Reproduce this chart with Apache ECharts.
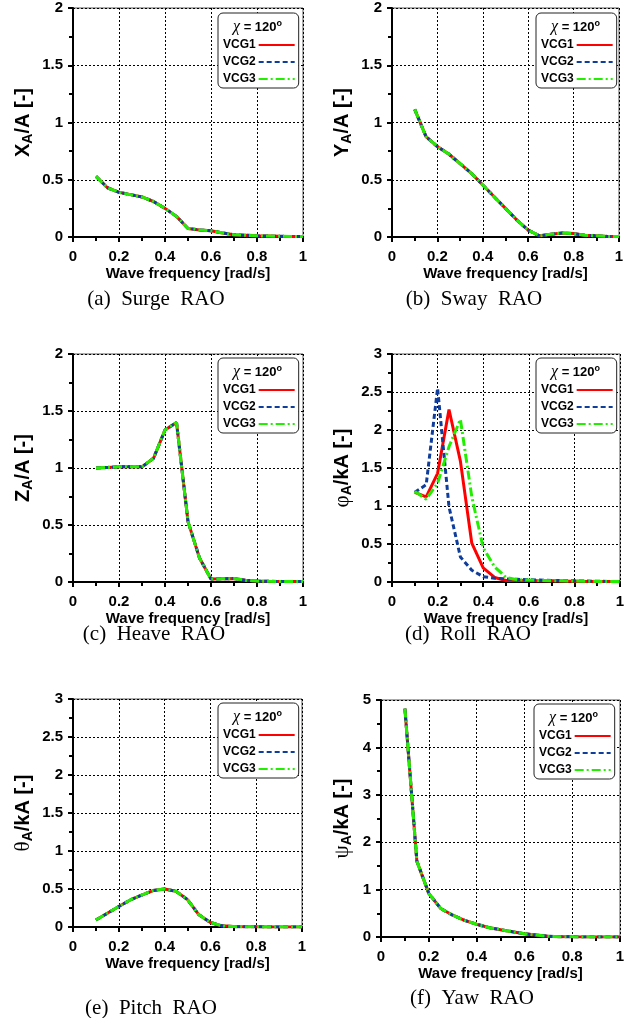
<!DOCTYPE html>
<html>
<head>
<meta charset="utf-8">
<script src="https://cdn.jsdelivr.net/npm/echarts@6/dist/echarts.min.js"></script>
<style>
  html, body { margin: 0; padding: 0; background: #fff; }
  #main { width: 632px; height: 1018px; }
</style>
</head>
<body>
<div id="main"></div>
<script>
// Six RAO panels for wave heading 120 deg, three VCG cases each.
const freq = [0.1, 0.15, 0.2, 0.25, 0.3, 0.35, 0.4, 0.45, 0.5, 0.55, 0.6, 0.65, 0.7, 0.75, 0.8, 0.85, 0.9, 0.95, 1.0];

const surge = [0.53, 0.43, 0.39, 0.37, 0.35, 0.31, 0.25, 0.18, 0.075, 0.062, 0.055, 0.035, 0.02, 0.015, 0.01, 0.008, 0.006, 0.005, 0.004];
const sway = [1.115, 0.876, 0.79, 0.725, 0.64, 0.556, 0.454, 0.352, 0.25, 0.148, 0.06, 0.01, 0.025, 0.035, 0.03, 0.015, 0.01, 0.005, 0.005];
const heave = [1.0, 1.005, 1.01, 1.01, 1.01, 1.085, 1.333, 1.4, 0.53, 0.21, 0.026, 0.028, 0.03, 0.015, 0.008, 0.006, 0.005, 0.004, 0.004];
const rollVcg1 = [1.18, 1.12, 1.43, 2.27, 1.59, 0.51, 0.185, 0.06, 0.02, 0.02, 0.02, 0.018, 0.015, 0.012, 0.01, 0.008, 0.006, 0.005, 0.004];
const rollVcg2 = [1.18, 1.28, 2.55, 0.99, 0.33, 0.155, 0.07, 0.05, 0.04, 0.035, 0.03, 0.025, 0.02, 0.018, 0.015, 0.012, 0.01, 0.008, 0.006];
const rollVcg3 = [1.19, 1.09, 1.3, 1.78, 2.14, 1.12, 0.45, 0.2, 0.06, 0.03, 0.025, 0.02, 0.018, 0.015, 0.012, 0.01, 0.008, 0.006, 0.005];
const pitch = [0.092, 0.18, 0.27, 0.356, 0.42, 0.48, 0.5, 0.47, 0.36, 0.16, 0.06, 0.015, 0.005, 0.003, 0.002, 0.001, 0.001, 0.001, 0.001];
const yaw = [4.82, 1.6, 0.92, 0.6, 0.46, 0.35, 0.27, 0.2, 0.155, 0.11, 0.07, 0.04, 0.015, 0.005, 0.003, 0.002, 0.001, 0.001, 0.001];

const caseNames = ['VCG1', 'VCG2', 'VCG3'];
const captions = ['(a)  Surge  RAO', '(b)  Sway  RAO', '(c)  Heave  RAO', '(d)  Roll  RAO', '(e)  Pitch  RAO', '(f)  Yaw  RAO'];

// layout per panel: grid box, y range, y-name, legend box, caption pos
const panels = [
  { grid: [73, 8, 230, 229], yMax: 2, yInt: 0.5, sym: 'X', unit: '/A [-]', gap: 38, data: [surge, surge, surge], leg: [218, 13], cap: [156, 299] },
  { grid: [392, 8, 227, 229], yMax: 2, yInt: 0.5, sym: 'Y', unit: '/A [-]', gap: 38, data: [sway, sway, sway], leg: [536, 13], cap: [474, 299] },
  { grid: [73, 354, 230, 228], yMax: 2, yInt: 0.5, sym: 'Z', unit: '/A [-]', gap: 38, data: [heave, heave, heave], leg: [218, 358], cap: [154, 634] },
  { grid: [392, 354, 228, 228], yMax: 3, yInt: 0.5, sym: 'φ', greek: true, unit: '/kA [-]', gap: 38, data: [rollVcg1, rollVcg2, rollVcg3], leg: [536, 358], cap: [468, 634] },
  { grid: [73, 699, 229, 228], yMax: 3, yInt: 0.5, sym: 'θ', greek: true, unit: '/kA [-]', gap: 38, data: [pitch, pitch, pitch], leg: [218, 703], cap: [151, 1008] },
  { grid: [381, 700, 239, 237], yMax: 5, yInt: 1, sym: 'ψ', greek: true, unit: '/kA [-]', gap: 27, data: [yaw, yaw, yaw], leg: [534, 704], cap: [472, 998] },
];

const lineStyles = [
  { color: '#ff0000', width: 3, type: 'solid' },
  { color: '#0f3d9c', width: 3, type: [5, 3] },
  { color: '#22ee00', width: 3, type: [9, 3, 2, 3] },
];

const SANS = '"Liberation Sans", Arial, sans-serif';
const SERIF = '"Liberation Serif", "Times New Roman", serif';

const chart = echarts.init(document.getElementById('main'));

const grid = [], xAxis = [], yAxis = [], series = [], legend = [], graphic = [];

panels.forEach((p, i) => {
  const [l, t, w, h] = p.grid;
  grid.push({ left: l, top: t, width: w, height: h, show: true, borderColor: '#555', borderWidth: 1, backgroundColor: 'transparent' });

  xAxis.push({
    type: 'value', gridIndex: i, min: 0, max: 1, interval: 0.2,
    name: 'Wave frequency [rad/s]', nameLocation: 'middle', nameGap: 29,
    nameTextStyle: { fontFamily: SANS, fontWeight: 'bold', fontSize: 15, color: '#000' },
    axisLine: { lineStyle: { color: '#000', width: 2 } },
    axisTick: { show: true, inside: false, length: 5, lineStyle: { color: '#000', width: 2 } },
    minorTick: { show: true, splitNumber: 2, length: 4, lineStyle: { color: '#000', width: 2 } },
    axisLabel: { fontFamily: SANS, fontWeight: 'bold', fontSize: 15, color: '#000', margin: 12 },
    splitLine: { show: true, lineStyle: { color: '#000', type: [2, 2], width: 1 } },
  });

  const symStyle = p.greek
    ? { fontFamily: SERIF, fontSize: 21, fontWeight: 'normal', color: '#000' }
    : { fontFamily: SANS, fontSize: 20, fontWeight: 'bold', color: '#000' };
  yAxis.push({
    type: 'value', gridIndex: i, min: 0, max: p.yMax, interval: p.yInt,
    name: `{s|${p.sym}}{sub|A}{m|${p.unit}}`, nameLocation: 'middle', nameGap: p.gap, nameRotate: 90,
    nameTextStyle: {
      rich: {
        s: symStyle,
        sub: { fontFamily: SANS, fontSize: 14, fontWeight: 'bold', color: '#000', padding: [9, 0, 0, 0] },
        m: { fontFamily: SANS, fontSize: 20, fontWeight: 'bold', color: '#000' },
      },
    },
    axisLine: { show: true, lineStyle: { color: '#000', width: 2 } },
    axisTick: { show: true, inside: false, length: 5, lineStyle: { color: '#000', width: 2 } },
    minorTick: { show: true, splitNumber: 2, length: 4, lineStyle: { color: '#000', width: 2 } },
    axisLabel: { fontFamily: SANS, fontWeight: 'bold', fontSize: 15, color: '#000', margin: 10 },
    splitLine: { show: true, lineStyle: { color: '#000', type: [2, 2], width: 1 } },
  });

  caseNames.forEach((name, k) => {
    series.push({
      type: 'line', name, xAxisIndex: i, yAxisIndex: i,
      data: freq.map((f, j) => [f, p.data[k][j]]),
      symbol: 'none', smooth: false, lineStyle: lineStyles[k], itemStyle: { color: lineStyles[k].color },
      z: 3 + k,
    });
  });

  legend.push({
    data: caseNames, orient: 'vertical', align: 'right',
    left: p.leg[0], top: p.leg[1],
    padding: [26, 3, 3, 5], itemGap: 5, itemWidth: 36, itemHeight: 12,
    backgroundColor: '#fff', borderColor: '#222', borderWidth: 1, borderRadius: 5,
    itemStyle: { opacity: 0 },
    textStyle: { fontFamily: SANS, fontWeight: 'bold', fontSize: 12, color: '#000', padding: [0, -2, 0, 0] },
    selectedMode: false,
  });

  graphic.push({
    type: 'text', left: p.leg[0] + 15, top: p.leg[1] + 6, z: 100,
    style: {
      text: '{g|χ}{b| = 120}{o|o}',
      rich: {
        g: { fontFamily: SERIF, fontSize: 16, fontStyle: 'italic', fill: '#000' },
        b: { fontFamily: SANS, fontSize: 13, fontWeight: 'bold', fill: '#000' },
        o: { fontFamily: SANS, fontSize: 9, fontWeight: 'bold', fill: '#000', padding: [0, 0, 7, 0] },
      },
    },
  });

  graphic.push({
    type: 'text', x: p.cap[0], y: p.cap[1],
    style: { text: captions[i], font: `21px ${SERIF}`, fill: '#000', align: 'center', verticalAlign: 'middle' },
  });
});

chart.setOption({
  animation: false,
  backgroundColor: '#fff',
  grid, xAxis, yAxis, series, legend, graphic,
});
</script>
</body>
</html>
